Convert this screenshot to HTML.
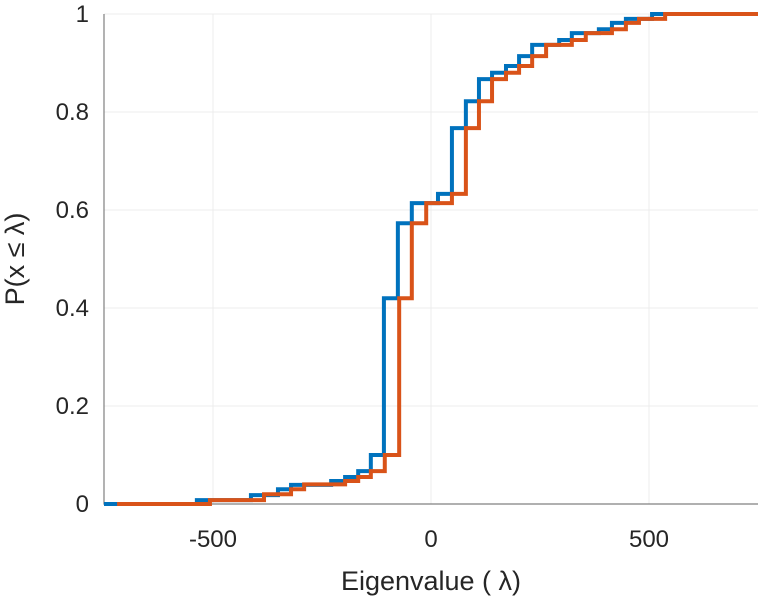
<!DOCTYPE html>
<html><head><meta charset="utf-8"><style>
body{margin:0;background:#fff}
text{font-family:"Liberation Sans",sans-serif;fill:#262626}
</style></head><body>
<svg id="chart" width="763" height="600" viewBox="0 0 763 600" xmlns="http://www.w3.org/2000/svg"></svg>
<script>
const xTicks=[-500,0,500];
const xTickLabels=["-500","0","500"];
const yTicks=[0,0.2,0.4,0.6,0.8,1];
const yTickLabels=["0","0.2","0.4","0.6","0.8","1"];
const blueX=[-750,-537,-413,-351,-321,-229,-197,-167,-138,-108,-76,-44,16,48,80,110,140,172,202,232,294,323,385,415,447,507];
const blueP=[0,0.008,0.018,0.03,0.039,0.047,0.055,0.067,0.1,0.42,0.573,0.614,0.633,0.767,0.822,0.867,0.88,0.894,0.914,0.937,0.947,0.961,0.969,0.982,0.99,1];
const orangeX=[-720,-507,-383,-321,-291,-197,-167,-138,-106,-73,-44,-11,48,80,110,140,172,202,232,264,323,355,415,447,477,537];
const orangeP=[0,0.008,0.02,0.03,0.04,0.047,0.055,0.067,0.1,0.42,0.573,0.614,0.633,0.767,0.822,0.867,0.88,0.894,0.914,0.937,0.947,0.961,0.969,0.982,0.99,1];
const X0=104,X1=758,Y0=504,Y1=14,xmin=-750,xmax=750;
const sx=v=>X0+(v-xmin)/(xmax-xmin)*(X1-X0);
const sy=p=>Y0-p*(Y0-Y1);
const svg=document.getElementById('chart');
const NS='http://www.w3.org/2000/svg';
function mk(tag,attrs,parent){const e=document.createElementNS(NS,tag);for(const k in attrs)e.setAttribute(k,attrs[k]);(parent||svg).appendChild(e);return e;}
xTicks.forEach((t,i)=>{
 const g=mk('line',{x1:sx(t),x2:sx(t),y1:Y1,y2:Y0,stroke:'#ececec','stroke-width':1});
 
 
 const tx=mk('text',{x:sx(t),y:547,'font-size':24,'text-anchor':'middle'});
 tx.textContent=xTickLabels[i];
 
 
});
yTicks.forEach((t,i)=>{
 const g=mk('line',{x1:X0,x2:X1,y1:sy(t),y2:sy(t),stroke:'#ececec','stroke-width':1});
 
 
 const tx=mk('text',{x:89,y:sy(t)+8,'font-size':24,'text-anchor':'end'});
 tx.textContent=yTickLabels[i];
 
 
});
const ax=mk('path',{d:`M${X0} ${Y1}V${Y0}H${X1}`,stroke:'#808080','stroke-width':1.2,fill:'none'});


function stairs(xs,ps,color,name){
 let d=`M${sx(xs[0])} ${sy(ps[0])}`;
 for(let i=1;i<xs.length;i++){d+=`H${sx(xs[i])}V${sy(ps[i])}`;}
 d+=`H${X1}`;
 const p=mk('path',{d:d,stroke:color,'stroke-width':4,fill:'none'});
 
 
}
stairs(blueX,blueP,'#0072BD','blue-cdf-line');
stairs(orangeX,orangeP,'#D95319','orange-cdf-line');
const xt=mk('text',{x:431,y:590,'font-size':27,'text-anchor':'middle'});
xt.textContent='Eigenvalue (  λ)';


const yt=mk('text',{x:0,y:0,'font-size':27,'text-anchor':'middle',transform:`translate(24,${(Y0+Y1)/2}) rotate(-90)`});
yt.textContent='P(x ≤  λ)';


</script>
</body></html>
